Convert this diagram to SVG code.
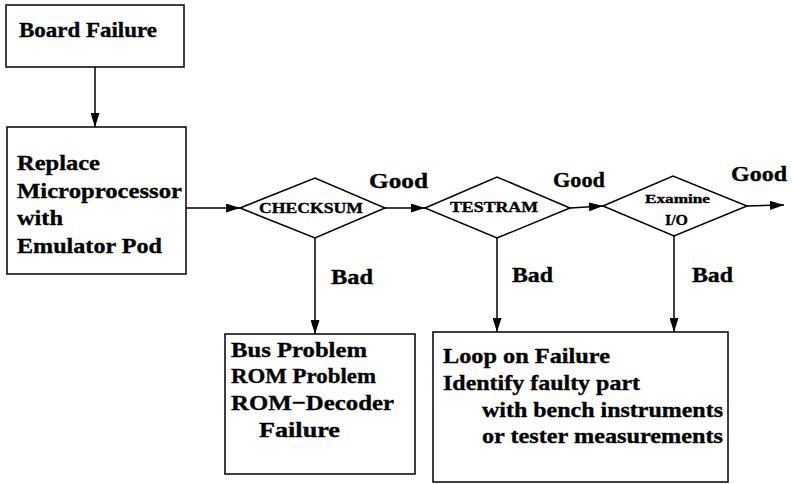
<svg xmlns="http://www.w3.org/2000/svg" width="792" height="484" viewBox="0 0 792 484">
  <style>
    .box { fill: #fff; stroke: #000; stroke-width: 1.5; }
    .dia { fill: #fff; stroke: #000; stroke-width: 1.5; }
    .edge { fill: none; stroke: #000; stroke-width: 1.5; }
    text { font-family: "Liberation Serif", "Times New Roman", serif; font-weight: 700; fill: #000; stroke: #000; stroke-width: 0.35; }
    .t { font-size: 22px; }
    .lbl { font-size: 22px; }
    .sm { font-size: 15px; }
    .xs { font-size: 12px; }
  </style>
  <defs>
    <marker id="arrow" viewBox="0 0 14 9" refX="14" refY="4.5" markerWidth="14" markerHeight="9" markerUnits="userSpaceOnUse" orient="auto">
      <path d="M0,0 L14,4.5 L0,9 Z" fill="#000"/>
    </marker>
  </defs>
  <rect width="792" height="484" fill="#fff"/>

  <g id="connectors">
    <line class="edge" x1="95" y1="67" x2="95" y2="127" marker-end="url(#arrow)"/>
    <line class="edge" x1="186" y1="208" x2="240" y2="208" marker-end="url(#arrow)"/>
    <line class="edge" x1="385" y1="208" x2="425" y2="208" marker-end="url(#arrow)"/>
    <line class="edge" x1="570" y1="208" x2="603" y2="206" marker-end="url(#arrow)"/>
    <line class="edge" x1="747" y1="206" x2="784" y2="205" marker-end="url(#arrow)"/>
    <line class="edge" x1="315" y1="238" x2="315" y2="334" marker-end="url(#arrow)"/>
    <line class="edge" x1="497" y1="238" x2="497" y2="332" marker-end="url(#arrow)"/>
    <line class="edge" x1="674" y1="236" x2="674" y2="332" marker-end="url(#arrow)"/>
    <text class="lbl" x="369" y="188" textLength="59" lengthAdjust="spacingAndGlyphs">Good</text>
    <text class="lbl" x="553" y="187" textLength="52" lengthAdjust="spacingAndGlyphs">Good</text>
    <text class="lbl" x="731" y="181" textLength="56" lengthAdjust="spacingAndGlyphs">Good</text>
    <text class="lbl" x="331" y="284" textLength="42" lengthAdjust="spacingAndGlyphs">Bad</text>
    <text class="lbl" x="512" y="282" textLength="41" lengthAdjust="spacingAndGlyphs">Bad</text>
    <text class="lbl" x="692" y="282" textLength="41" lengthAdjust="spacingAndGlyphs">Bad</text>
  </g>

  <g id="board-failure">
    <rect class="box" x="6" y="5" width="178" height="62"/>
    <text class="t" x="19" y="37" textLength="138" lengthAdjust="spacingAndGlyphs">Board Failure</text>
  </g>

  <g id="replace-cpu">
    <rect class="box" x="7" y="127" width="179" height="147"/>
    <text class="t" x="17" y="170" textLength="83" lengthAdjust="spacingAndGlyphs">Replace</text>
    <text class="t" x="17" y="198" textLength="165" lengthAdjust="spacingAndGlyphs">Microprocessor</text>
    <text class="t" x="17" y="225" textLength="46" lengthAdjust="spacingAndGlyphs">with</text>
    <text class="t" x="17" y="253" textLength="145" lengthAdjust="spacingAndGlyphs">Emulator Pod</text>
  </g>

  <g id="checksum">
    <polygon class="dia" points="240,208 315,178 385,208 315,238"/>
    <text class="sm" x="259" y="213" textLength="104" lengthAdjust="spacingAndGlyphs">CHECKSUM</text>
  </g>

  <g id="testram">
    <polygon class="dia" points="425,208 497,177 570,208 497,238"/>
    <text class="sm" x="450" y="212" textLength="88" lengthAdjust="spacingAndGlyphs">TESTRAM</text>
  </g>

  <g id="examine-io">
    <polygon class="dia" points="603,206 673,176 747,206 674,236"/>
    <text class="xs" x="645" y="203" textLength="65" lengthAdjust="spacingAndGlyphs">Examine</text>
    <text class="sm" x="665" y="225" textLength="23" lengthAdjust="spacingAndGlyphs">I/O</text>
  </g>

  <g id="rom-failures">
    <rect class="box" x="225" y="334" width="190" height="140"/>
    <text class="t" x="231" y="357" textLength="136" lengthAdjust="spacingAndGlyphs">Bus Problem</text>
    <text class="t" x="231" y="383" textLength="145" lengthAdjust="spacingAndGlyphs">ROM Problem</text>
    <text class="t" x="231" y="410" textLength="163" lengthAdjust="spacingAndGlyphs">ROM−Decoder</text>
    <text class="t" x="259" y="437" textLength="81" lengthAdjust="spacingAndGlyphs">Failure</text>
  </g>

  <g id="loop-on-failure">
    <rect class="box" x="433" y="332" width="295" height="150"/>
    <text class="t" x="443" y="363" textLength="167" lengthAdjust="spacingAndGlyphs">Loop on Failure</text>
    <text class="t" x="443" y="390" textLength="197" lengthAdjust="spacingAndGlyphs">Identify faulty part</text>
    <text class="t" x="482" y="417" textLength="241" lengthAdjust="spacingAndGlyphs">with bench instruments</text>
    <text class="t" x="482" y="443" textLength="241" lengthAdjust="spacingAndGlyphs">or tester measurements</text>
  </g>
</svg>
